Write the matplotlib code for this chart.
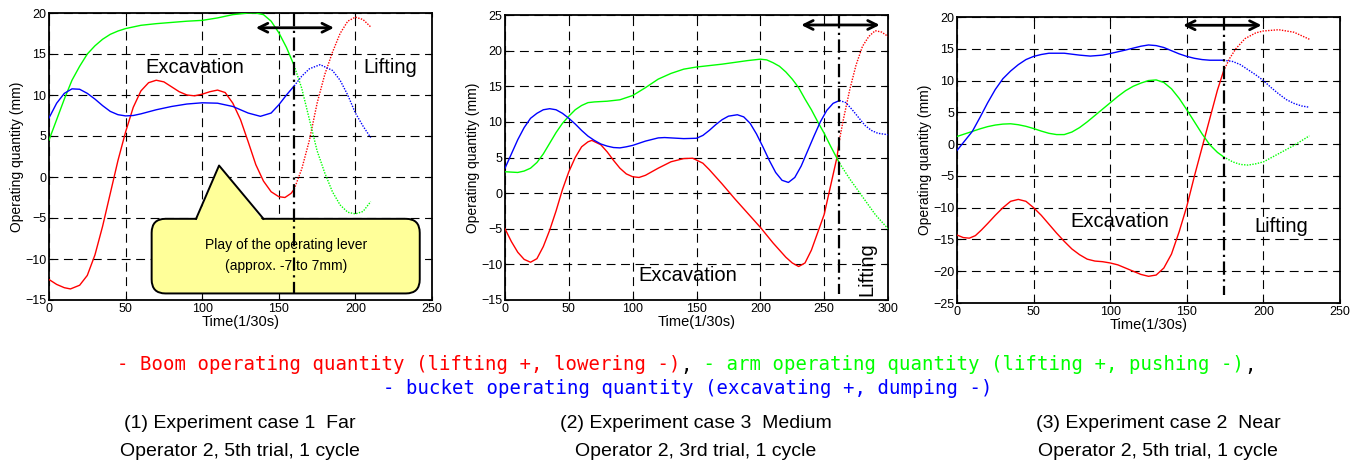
import matplotlib
matplotlib.use("Agg")
import matplotlib.pyplot as plt
import numpy as np
from matplotlib.patches import FancyBboxPatch, Polygon
from matplotlib.text import Annotation

plt.rcParams['font.family'] = ['Liberation Sans', 'DejaVu Sans']

RED = '#ff0000'
GREEN = '#00ff00'
BLUE = '#0000ff'

# ---- (1) case 1, far ----
t1_boom = [0, 5, 10, 14, 20, 25, 30, 35, 40, 45, 50, 55, 60, 65, 70, 75, 80, 85, 90, 95, 100,
           105, 110, 115, 120, 125, 130, 135, 140, 145, 150, 154, 158, 160,
           165, 170, 175, 180, 185, 190, 195, 200, 205, 210]
boom1 = [-12.5, -13.1, -13.5, -13.65, -13.2, -12, -9.5, -6, -2, 2, 5.5, 8.5, 10.5, 11.5, 11.8, 11.6,
         11, 10.4, 10, 9.9, 10.1, 10.4, 10.6, 10.3, 9, 7, 4.3, 1.5, -0.5, -1.8, -2.4, -2.5, -2, -1.5,
         1, 4.5, 9, 12.5, 15.2, 17.5, 19, 19.5, 19.2, 18.3]
t1_arm = [0, 5, 10, 15, 20, 25, 30, 35, 40, 45, 50, 60, 70, 80, 90, 100, 110, 120, 130, 135, 140,
          145, 150, 155, 160, 165, 170, 175, 180, 185, 190, 195, 200, 205, 210]
arm1 = [4.5, 7, 9.5, 11.8, 13.5, 15, 16, 16.8, 17.4, 17.8, 18.1, 18.5, 18.7, 18.85, 19, 19.1, 19.4,
        19.8, 20, 20, 19.8, 19, 17.6, 15.8, 13.6, 10.8, 7, 3.2, 0.5, -1.8, -3.4, -4.3, -4.5, -4.2, -3]
t1_bucket = [0, 5, 10, 15, 20, 25, 30, 35, 40, 45, 50, 55, 60, 70, 80, 90, 100, 110, 120, 130, 138,
             145, 150, 155, 160, 165, 170, 177, 185, 190, 195, 200, 205, 210]
bucket1 = [7.2, 9, 10.2, 10.75, 10.7, 10.2, 9.5, 8.7, 8, 7.6, 7.45, 7.5, 7.7, 8.2, 8.6, 8.9, 9.05,
           9, 8.6, 7.8, 7.4, 7.8, 8.8, 10, 11.1, 12.3, 13.2, 13.7, 13, 11.8, 10, 7.8, 6.2, 4.8]

# ---- (2) case 3, medium ----
t2_boom = [0, 5, 10, 15, 20, 25, 30, 35, 40, 45, 50, 55, 60, 65, 68, 75, 80, 85, 90, 95, 100, 105,
           110, 115, 120, 130, 140, 147, 155, 160, 170, 180, 190, 200, 210, 220, 225, 230, 235, 240,
           245, 250, 255, 260, 262, 265, 270, 275, 280, 285, 290, 295, 300]
boom2 = [-5, -6.8, -8.3, -9.3, -9.7, -9.2, -7.5, -5.2, -2.5, 0.5, 3, 5, 6.5, 7.2, 7.4, 6.8, 5.8, 4.6,
         3.5, 2.7, 2.3, 2.2, 2.5, 3, 3.5, 4.4, 4.85, 4.9, 4.2, 3.3, 1.3, -0.8, -2.8, -4.8, -7, -9,
         -9.8, -10.3, -9.8, -8, -5.5, -3, 1, 5, 7.5, 10.3, 14.5, 18, 20.6, 22, 22.8, 22.6, 22]
t2_arm = [0, 10, 15, 20, 25, 30, 35, 40, 45, 50, 55, 60, 65, 70, 80, 90, 100, 110, 120, 130, 140,
          150, 160, 170, 180, 190, 200, 205, 210, 215, 220, 225, 230, 235, 240, 245, 250, 255, 260,
          262, 270, 280, 290, 300]
arm2 = [3, 2.9, 3.1, 3.5, 4.3, 5.5, 7, 8.5, 9.8, 10.8, 11.7, 12.3, 12.7, 12.8, 12.9, 13.1, 13.7,
        14.8, 16, 16.8, 17.4, 17.7, 17.9, 18.1, 18.35, 18.6, 18.8, 18.7, 18.3, 17.8, 17, 16, 14.8,
        13.2, 11.7, 10, 8.4, 6.6, 4.9, 4.2, 2, -0.5, -3, -5]
t2_bucket = [0, 5, 10, 15, 20, 25, 30, 35, 40, 45, 50, 55, 60, 65, 70, 75, 80, 85, 90, 95, 100, 105,
             110, 120, 125, 130, 140, 150, 155, 160, 165, 170, 175, 182, 187, 192, 197, 202, 207,
             212, 217, 222, 227, 232, 237, 242, 247, 252, 257, 262, 267, 272, 277, 282, 287, 292, 300]
bucket2 = [3.5, 5.5, 7.5, 9.2, 10.5, 11.2, 11.7, 11.85, 11.7, 11.2, 10.5, 9.7, 8.8, 8, 7.4, 6.9, 6.6,
           6.4, 6.35, 6.5, 6.7, 7, 7.3, 7.75, 7.8, 7.75, 7.65, 7.7, 8.1, 8.8, 9.6, 10.3, 10.8, 11,
           10.7, 9.8, 8.3, 6.5, 4.6, 2.9, 1.8, 1.5, 2.2, 3.8, 5.9, 8, 10, 11.6, 12.6, 13, 12.7,
           11.7, 10.6, 9.5, 8.8, 8.4, 8.2]

# ---- (3) case 2, near ----
t3_boom = [0, 4, 8, 12, 16, 20, 25, 30, 35, 40, 45, 50, 55, 60, 65, 70, 75, 80, 85, 90, 95, 100,
           105, 110, 115, 120, 125, 130, 135, 140, 145, 150, 155, 160, 165, 170, 174,
           178, 182, 188, 195, 200, 210, 220, 230]
boom3 = [-14.3, -14.7, -14.8, -14.4, -13.5, -12.5, -11.2, -10, -9, -8.7, -9, -10, -11.2, -12.6, -14,
         -15.3, -16.5, -17.4, -18.1, -18.4, -18.5, -18.7, -19, -19.5, -20, -20.5, -20.8, -20.6,
         -19.5, -17.3, -13.8, -9.8, -5, -0.5, 4, 8.5, 11.5, 13.5, 15, 16.6, 17.5, 17.8, 18, 17.6, 16.5]
t3_arm = [0, 5, 10, 15, 20, 25, 30, 35, 40, 45, 50, 55, 60, 65, 70, 75, 80, 85, 90, 95, 100, 105,
          110, 115, 120, 125, 130, 135, 140, 145, 150, 155, 160, 165, 170, 174,
          180, 185, 190, 195, 200, 210, 220, 230]
arm3 = [1.2, 1.6, 2, 2.4, 2.75, 3, 3.15, 3.2, 3.05, 2.8, 2.45, 2.05, 1.7, 1.5, 1.5, 1.9, 2.6, 3.5,
        4.5, 5.5, 6.5, 7.5, 8.4, 9.1, 9.6, 10, 10.1, 9.7, 8.7, 7.2, 5.4, 3.5, 1.6, -0.1, -1.3, -2,
        -2.8, -3.2, -3.3, -3.1, -2.8, -1.5, -0.2, 1.3]
t3_bucket = [0, 5, 10, 15, 20, 25, 30, 35, 40, 45, 50, 55, 60, 70, 80, 87, 95, 100, 110, 120, 125,
             130, 135, 140, 145, 150, 155, 160, 165, 174,
             180, 185, 190, 195, 200, 205, 210, 215, 220, 225, 230]
bucket3 = [-1, 0.5, 2, 4.2, 6.5, 8.6, 10.3, 11.5, 12.5, 13.3, 13.8, 14.1, 14.3, 14.3, 14, 13.85, 14,
           14.25, 14.8, 15.4, 15.6, 15.5, 15.2, 14.7, 14.2, 13.8, 13.5, 13.3, 13.2, 13.2,
           13, 12.5, 11.7, 10.9, 10, 8.9, 7.9, 7, 6.4, 6, 5.8]

split_t = [160, 262, 174]
xlims = [(0, 250), (0, 300), (0, 250)]
ylims = [(-15, 20), (-15, 25), (-25, 20)]
arrow_x = [(135, 186), (232, 293.5), (147.6, 198.8)]
arrow_y = [18.2, 23.6, 18.7]
split_bottom = [-14.2, -14.1, -23.7]
excav_pos = [(95, 13.4), (143.5, -11.6), (106.5, -12.2)]
lift_pos = [(222.6, 13.4), (283.8, -10.6), (211.9, -13.0)]
lift_rot = [0, 90, 0]
captions = [("(1) Experiment case 1  Far", "Operator 2, 5th trial, 1 cycle"),
            ("(2) Experiment case 3  Medium", "Operator 2, 3rd trial, 1 cycle"),
            ("(3) Experiment case 2  Near", "Operator 2, 5th trial, 1 cycle")]
caption_x = [240, 696, 1158]

series = [
    [(t1_boom, boom1, RED), (t1_arm, arm1, GREEN), (t1_bucket, bucket1, BLUE)],
    [(t2_boom, boom2, RED), (t2_arm, arm2, GREEN), (t2_bucket, bucket2, BLUE)],
    [(t3_boom, boom3, RED), (t3_arm, arm3, GREEN), (t3_bucket, bucket3, BLUE)],
]

W, H = 1366, 467
fig = plt.figure(figsize=(W / 100, H / 100), dpi=100)
boxes = [(49, 13, 432, 300), (505, 15, 888, 300), (957, 17, 1340, 303)]

for i, (l, t, r, b) in enumerate(boxes):
    ax = fig.add_axes([l / W, 1 - b / H, (r - l) / W, (b - t) / H])
    for tt, vv, c in series[i]:
        tt = np.array(tt)
        vv = np.array(vv)
        a = tt <= split_t[i]
        d = tt >= split_t[i]
        ax.plot(tt[a], vv[a], color=c, lw=1, zorder=3)
        ax.plot(tt[d], vv[d], color=c, lw=1, ls=(0, (1, 1)), zorder=3)

    ax.set_xlim(*xlims[i])
    ax.set_ylim(*ylims[i])
    ax.set_xticks(np.arange(xlims[i][0], xlims[i][1] + 1, 50))
    ax.set_yticks(np.arange(ylims[i][0], ylims[i][1] + 1, 5))
    ax.grid(True, color='k', ls=(0, (8, 5)), lw=0.8)
    ax.tick_params(direction='in', labelsize=9, length=3, pad=2, top=True, right=True)
    for s in ax.spines.values():
        s.set_linewidth(1.3)
    ax.set_xlabel('Time(1/30s)', fontsize=10.5, labelpad=0)
    ax.set_ylabel('Operating quantity (mm)', fontsize=10, labelpad=1)

    # boundary between excavation and lifting
    ax.plot([split_t[i], split_t[i]], [ylims[i][1], split_bottom[i]], color='k', lw=1.6,
            ls=(0, (6, 2, 1, 2)), zorder=4)
    ax.annotate('', xy=(arrow_x[i][1], arrow_y[i]), xytext=(arrow_x[i][0], arrow_y[i]),
                arrowprops=dict(arrowstyle='<->', lw=2, color='k', mutation_scale=16,
                                shrinkA=0, shrinkB=0), zorder=5)
    ax.text(*excav_pos[i], 'Excavation', fontsize=14.5, ha='center', va='center', zorder=5)
    ax.text(*lift_pos[i], 'Lifting', fontsize=14.5, ha='center', va='center',
            rotation=lift_rot[i], zorder=5)

    if i == 0:
        # speech bubble callout
        box = FancyBboxPatch((67, -14.2), 175, 9.1, boxstyle='round,pad=0,rounding_size=9',
                             mutation_aspect=0.19, facecolor='#ffff99', edgecolor='k',
                             lw=1.4, zorder=2)
        ax.add_patch(box)
        ax.add_patch(Polygon([(96, -5.4), (111, 1.4), (140, -5.4)], closed=True,
                             facecolor='#ffff99', edgecolor='none', zorder=2.1))
        ax.plot([96, 111, 140], [-5.1, 1.4, -5.1], color='k', lw=1.4, zorder=2.2)
        ax.text(155, -9.56, 'Play of the operating lever\n(approx. -7 to 7mm)', fontsize=10,
                ha='center', va='center', linespacing=1.6, zorder=5)

# legend lines below the charts (multi-coloured)
mono = dict(family='DejaVu Sans Mono', fontsize=13.7)
t0 = fig.text(117 / W, 1 - 365 / H, '- Boom operating quantity (lifting +, lowering -)',
              color=RED, va='center', ha='left', **mono)
a1 = fig.add_artist(Annotation(',', xy=(1, 0), xycoords=t0, va='bottom', ha='left',
                               color='k', **mono))
a2 = fig.add_artist(Annotation(' - arm operating quantity (lifting +, pushing -)', xy=(1, 0),
                               xycoords=a1, va='bottom', ha='left', color=GREEN, **mono))
fig.add_artist(Annotation(',', xy=(1, 0), xycoords=a2, va='bottom', ha='left',
                          color='k', **mono))
fig.text(383 / W, 1 - 389 / H, '- bucket operating quantity (excavating +, dumping -)',
         color=BLUE, va='center', ha='left', **mono)

for cx, (c1, c2) in zip(caption_x, captions):
    fig.text(cx / W, 1 - 423 / H, c1, fontsize=14, ha='center', va='center')
    fig.text(cx / W, 1 - 451 / H, c2, fontsize=14, ha='center', va='center')

fig.savefig('out.png', dpi=100)
